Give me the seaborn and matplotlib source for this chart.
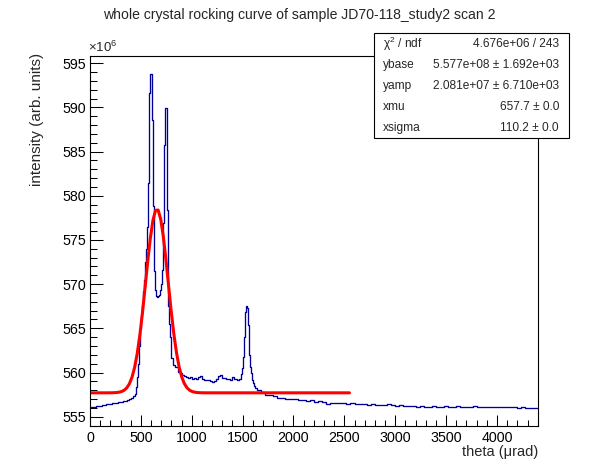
import numpy as np
import pandas as pd
import matplotlib
matplotlib.use("Agg")
import matplotlib.pyplot as plt
from matplotlib.patches import Rectangle
from matplotlib.ticker import MultipleLocator
import seaborn as sns

# histogram contents in units of 1e6
# (start of segment, bin width, contents)
counts_left = [556.05, 556.08, 556.15, 556.20, 556.18, 556.25, 556.30, 556.28, 556.38, 556.40, 556.45,
               556.50, 556.55, 556.55, 556.65, 556.70, 556.72, 556.80, 556.90, 556.95, 557.10, 557.30]
counts_peaks = [557.6, 558.4, 559.5, 561.0, 563.0, 565.0, 566.5, 567.6, 569.2, 570.5, 572.5, 574.0,
                576.5, 581.5, 591.6, 593.8, 593.8, 588.6, 578.8, 571.5, 569.3, 568.7, 568.6, 568.7,
                568.8, 569.3, 570.0, 571.6, 576.9, 585.75, 589.9, 589.9, 578.4, 567.5, 565.5, 564.0]
counts_mid = [561.6, 560.9, 560.6, 560.1, 559.9, 559.7, 559.6, 559.5, 559.4, 559.5, 559.3, 559.4,
              559.3, 559.5, 559.6, 559.3, 559.1, 559.15, 559.1, 559.0, 558.95, 559.0, 559.3, 559.6,
              559.7, 559.4, 559.35, 559.3, 559.3, 559.2, 559.45, 559.25, 559.2, 559.3]
counts_peak3 = [559.8, 560.5, 561.8, 564.0, 566.9, 567.5, 567.3, 565.4, 562.0, 560.6, 560.0, 559.2,
                558.8, 558.5]
counts_step = [558.3]
counts_tail = [558.0, 557.75, 557.45, 557.4, 557.3, 557.15, 557.1, 557.0, 557.05, 556.95,
               556.9, 556.85, 556.8, 556.85, 556.7, 556.75, 556.65, 556.45, 556.6, 556.55,
               556.5, 556.55, 556.45, 556.5, 556.4, 556.45, 556.4, 556.35, 556.4, 556.3,
               556.35, 556.3, 556.4, 556.3, 556.25, 556.3, 556.2, 556.25, 556.2, 556.15,
               556.2, 556.1, 556.15, 556.2, 556.1, 556.15, 556.2, 556.1, 556.15, 556.2,
               556.1, 556.15, 556.1, 556.2, 556.1, 556.15, 556.1, 556.15, 556.1, 556.1,
               556.15, 556.05, 556.1, 556.05, 556.0, 556.05, 555.95, 556.0, 555.95]

segments = [(0, 20, counts_left), (440, 10, counts_peaks), (800, 20, counts_mid),
            (1480, 10, counts_peak3), (1620, 20, counts_step), (1640, 40, counts_tail)]

# gaussian fit parameters from the stats box (y in units of 1e6)
ybase, yamp, xmu, xsigma = 557.7, 20.81, 657.7, 110.2
fit_lo, fit_hi = 0, 2550

stat_labels = ["χ$^2$ / ndf", "ybase", "yamp", "xmu", "xsigma"]
stat_values = ["4.676e+06 / 243", "5.577e+08 ± 1.692e+03", "2.081e+07 ± 6.710e+03",
               "657.7 ± 0.0", "110.2 ± 0.0"]

edges = [segments[0][0]]
values = []
for start, width, cts in segments:
    for i, c in enumerate(cts):
        edges.append(start + (i + 1) * width)
        values.append(c)
centers = [0.5 * (a + b) for a, b in zip(edges[:-1], edges[1:])]
df = pd.DataFrame({"theta": centers, "counts": values})

fit_x = np.linspace(fit_lo, fit_hi, 100)
fit_df = pd.DataFrame({"theta": fit_x,
                       "fit": ybase + yamp * np.exp(-0.5 * ((fit_x - xmu) / xsigma) ** 2)})

sns.set_theme(style="ticks")
plt.rcParams['font.family'] = ['Liberation Sans', 'DejaVu Sans']
plt.rcParams['mathtext.default'] = 'regular'

W, H = 598, 474
fig = plt.figure(figsize=(W / 100, H / 100), dpi=100)
fig.patch.set_facecolor("white")
ax = fig.add_axes([90 / W, 1 - 425.7 / H, 448.3 / W, 370 / H])

# bins passed as a plain list (seaborn compares bins to "auto")
sns.histplot(data=df, x="theta", weights="counts", bins=list(map(float, edges)), element="step",
             fill=False, color="#000099", linewidth=0.95, ax=ax)
sns.lineplot(data=fit_df, x="theta", y="fit", color="#ff0000", linewidth=2.2, ax=ax)

ax.set_xlim(0, 4406)
ax.set_ylim(553.98, 595.85)
ax.set_xlabel("")
ax.set_ylabel("")
ax.xaxis.set_major_locator(MultipleLocator(500))
ax.xaxis.set_minor_locator(MultipleLocator(100))
ax.yaxis.set_major_locator(MultipleLocator(5))
ax.yaxis.set_minor_locator(MultipleLocator(1))
ax.tick_params(axis="x", which="major", direction="in", length=8, width=0.75, pad=3.5, labelsize=10.3)
ax.tick_params(axis="x", which="minor", direction="in", length=4, width=0.75)
ax.tick_params(axis="y", which="major", direction="in", length=9.7, width=0.75, pad=2.5, labelsize=10.3)
ax.tick_params(axis="y", which="minor", direction="in", length=4.9, width=0.75)
ax.tick_params(top=False, right=False, which="both", colors="black")
for sp in ax.spines.values():
    sp.set_color("black")
    sp.set_linewidth(0.8)
ax.set_facecolor("white")

fig.text(0.5, 1 - 15 / H, "whole crystal rocking curve of sample JD70-118_study2 scan 2",
         ha="center", va="center", fontsize=10.1)
fig.text(88 / W, 1 - 55.5 / H, "×10$^6$", ha="left", va="bottom", fontsize=9.5)
fig.text(36.7 / W, 1 - 53 / H, "intensity (arb. units)", rotation=90, ha="center", va="top", fontsize=11)
fig.text(538 / W, 1 - 452 / H, "theta (μrad)", ha="right", va="center", fontsize=10.5)

# stats box
bx0, by0, bx1, by1 = 374, 33.3, 569, 138.3
fig.add_artist(Rectangle((bx0 / W, 1 - by1 / H), (bx1 - bx0) / W, (by1 - by0) / H,
                         transform=fig.transFigure, facecolor="white", edgecolor="black",
                         linewidth=0.8, zorder=5))
row_h = (by1 - by0) / len(stat_labels)
for i, (lab, val) in enumerate(zip(stat_labels, stat_values)):
    yc = by0 + row_h * (i + 0.5)
    fig.text(383 / W, 1 - yc / H, lab, ha="left", va="center", fontsize=8.6, zorder=6)
    fig.text(559 / W, 1 - yc / H, val, ha="right", va="center", fontsize=8.6, zorder=6)

fig.savefig("out.png", dpi=100)
